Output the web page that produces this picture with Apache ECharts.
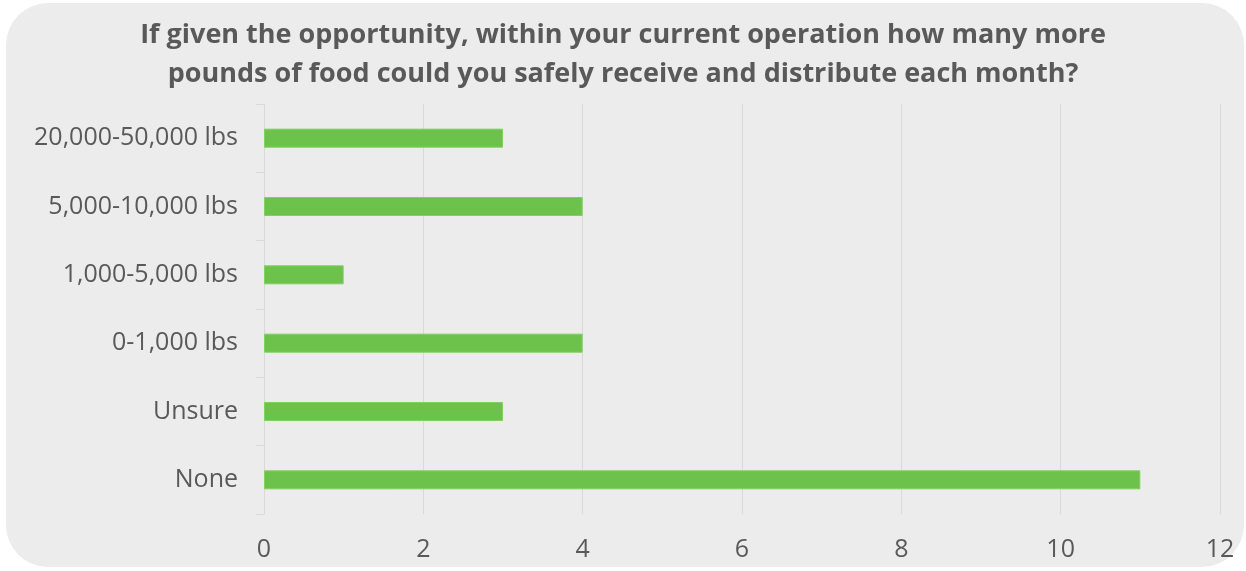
<!DOCTYPE html>
<html>
<head>
<meta charset="utf-8">
<script src="https://cdn.jsdelivr.net/npm/echarts@6/dist/echarts.min.js"></script>
<style>
  html, body { margin: 0; padding: 0; background: #ffffff; }
  #chart { width: 1246px; height: 571px; }
</style>
</head>
<body>
<div id="chart"></div>
<script>
// Survey responses: additional monthly pounds of food that could be handled
const categories = ['None', 'Unsure', '0-1,000 lbs', '1,000-5,000 lbs', '5,000-10,000 lbs', '20,000-50,000 lbs'];
const responses = [11, 3, 4, 1, 4, 3];
const titleLines = [
  'If given the opportunity, within your current operation how many more',
  'pounds of food could you safely receive and distribute each month?'
];

const chart = echarts.init(document.getElementById('chart'), null, { renderer: 'canvas' });

chart.setOption({
  backgroundColor: 'transparent',
  animation: false,
  graphic: [{
    type: 'rect',
    z: -10,
    silent: true,
    shape: { x: 6, y: 3, width: 1238, height: 564, r: 42 },
    style: { fill: '#ececec' }
  }],
  title: {
    text: titleLines.join('\n'),
    left: 'center',
    top: 11,
    textStyle: {
      fontFamily: 'Open Sans',
      fontWeight: 'bold',
      fontSize: 27,
      lineHeight: 39,
      color: '#595959'
    }
  },
  grid: { left: 264, right: 26, top: 104, bottom: 57, containLabel: false },
  xAxis: {
    type: 'value',
    min: 0,
    max: 12,
    interval: 2,
    axisLine: { show: false },
    axisTick: { show: false },
    axisLabel: {
      fontFamily: 'Open Sans',
      fontSize: 25,
      color: '#595959',
      margin: 23
    },
    splitLine: { show: true, lineStyle: { color: '#d9d9d9', width: 1 } }
  },
  yAxis: {
    type: 'category',
    data: categories,
    boundaryGap: true,
    axisLine: { show: true, lineStyle: { color: '#d9d9d9', width: 1 } },
    axisTick: { show: true, length: 8, lineStyle: { color: '#d9d9d9' } },
    axisLabel: {
      fontFamily: 'Open Sans',
      fontSize: 25,
      color: '#595959',
      margin: 26
    }
  },
  series: [{
    type: 'bar',
    data: responses,
    barWidth: 19,
    itemStyle: { color: '#6cc24a', borderColor: '#7fd060', borderWidth: 1 }
  }]
});
</script>
</body>
</html>
